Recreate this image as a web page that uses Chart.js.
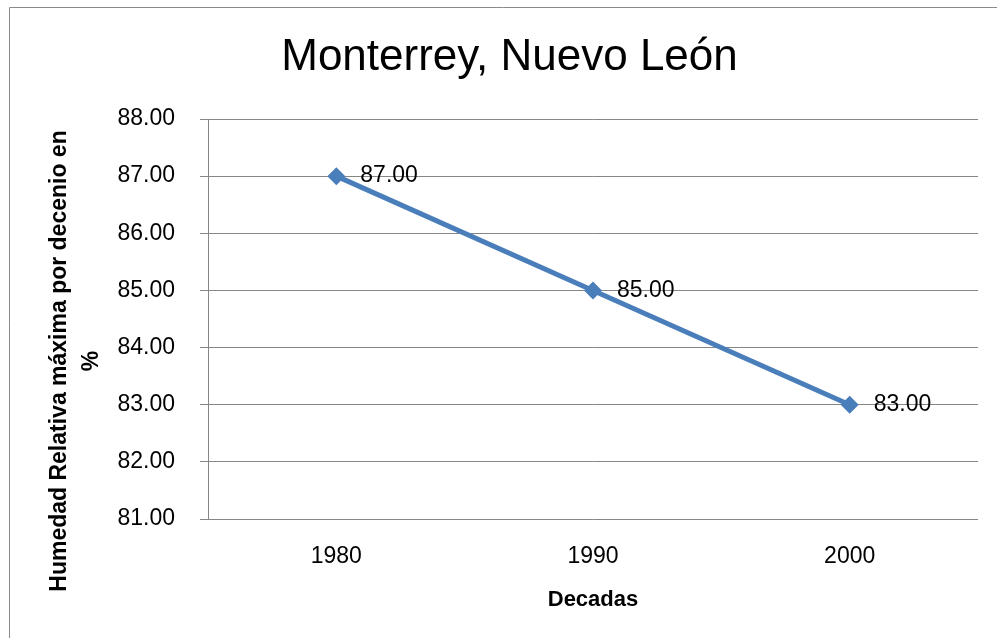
<!DOCTYPE html>
<html><head><meta charset="utf-8">
<script src="https://cdn.jsdelivr.net/npm/chart.js@4.4.0/dist/chart.umd.min.js"></script>
<style>html,body{margin:0;padding:0;background:#fff;}</style>
</head><body>
<canvas id="c" width="997" height="638"></canvas>
<script>
const categories = ['1980', '1990', '2000'];
const humedad = [87, 85, 83];
const yMin = 81;
const yMax = 88;
const yStep = 1;
const chartTitle = 'Monterrey, Nuevo León';
const yTitleLines = ['Humedad Relativa máxima por decenio en', '%'];
const xTitle = 'Decadas';

const FAM = '"Liberation Sans", Arial, sans-serif';
const LINE = '#4A7EBB';
const GRID = '#868686';

const framePlugin = {
  id: 'frame',
  beforeDraw(chart) {
    const ctx = chart.ctx;
    ctx.save();
    ctx.fillStyle = '#fff';
    ctx.fillRect(0, 0, chart.width, chart.height);
    ctx.strokeStyle = '#8a8a8a';
    ctx.lineWidth = 1;
    ctx.beginPath();
    ctx.moveTo(9.5, chart.height + 2);
    ctx.lineTo(9.5, 7.5);
    ctx.lineTo(chart.width + 2, 7.5);
    ctx.stroke();
    ctx.restore();
  }
};

const yTitlePlugin = {
  id: 'yTitle',
  afterDraw(chart) {
    const ctx = chart.ctx;
    ctx.save();
    ctx.fillStyle = '#000';
    ctx.font = 'bold 23px ' + FAM;
    ctx.textAlign = 'center';
    ctx.textBaseline = 'middle';
    ctx.translate(60, 361);
    ctx.rotate(-Math.PI / 2);
    yTitleLines.forEach((t, i) => ctx.fillText(t, 0, i * 32));
    ctx.restore();
  }
};

const labelPlugin = {
  id: 'pointLabels',
  afterDatasetsDraw(chart) {
    const ctx = chart.ctx;
    const meta = chart.getDatasetMeta(0);
    const ds = chart.data.datasets[0];
    ctx.save();
    ctx.fillStyle = '#000';
    ctx.font = '23px ' + FAM;
    ctx.textAlign = 'left';
    ctx.textBaseline = 'middle';
    meta.data.forEach((el, i) => {
      ctx.fillText(Number(ds.data[i]).toFixed(2), el.x + 24, el.y);
    });
    ctx.restore();
  }
};

new Chart(document.getElementById('c'), {
  type: 'line',
  data: {
    labels: categories,
    datasets: [{
      data: humedad,
      borderColor: LINE,
      backgroundColor: LINE,
      borderWidth: 5,
      tension: 0,
      fill: false,
      pointStyle: 'rectRot',
      pointRadius: 9,
      pointBorderWidth: 0,
      pointBackgroundColor: LINE,
      pointBorderColor: LINE
    }]
  },
  options: {
    responsive: false,
    animation: false,
    events: [],
    layout: { padding: { left: 41, right: 19, top: 0, bottom: 0 } },
    plugins: {
      legend: { display: false },
      tooltip: { enabled: false },
      title: {
        display: true,
        text: chartTitle,
        color: '#000',
        font: { family: FAM, size: 44, weight: 'normal', lineHeight: 1.2 },
        padding: { top: 31, bottom: 35.2 }
      }
    },
    scales: {
      x: {
        offset: true,
        grid: { display: false, drawTicks: false },
        border: { display: false },
        ticks: { color: '#000', font: { family: FAM, size: 23 }, padding: 24 },
        title: {
          display: true,
          text: xTitle,
          color: '#000',
          font: { family: FAM, size: 22, weight: 'bold', lineHeight: 1.2 },
          padding: { top: 0, bottom: 25 }
        },
        afterFit(s) { s.height = 119; }
      },
      y: {
        min: yMin,
        max: yMax,
        ticks: {
          stepSize: yStep,
          color: '#000',
          font: { family: FAM, size: 23 },
          padding: 25,
          callback: v => Number(v).toFixed(2)
        },
        grid: { color: GRID, lineWidth: 1, tickLength: 8, drawTicks: true },
        border: { color: GRID, width: 1 },
        afterFit(s) { s.width = 167; }
      }
    }
  },
  plugins: [framePlugin, yTitlePlugin, labelPlugin]
});
</script>
</body></html>
